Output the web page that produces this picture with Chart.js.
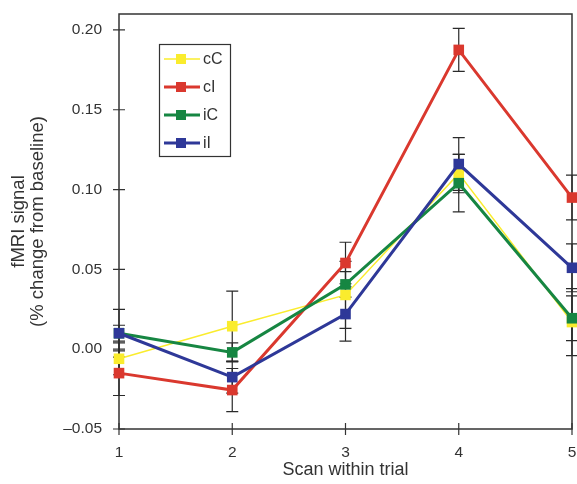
<!DOCTYPE html>
<html>
<head>
<meta charset="utf-8">
<script src="https://cdn.jsdelivr.net/npm/chart.js@4"></script>
<style>
  body { margin: 0; background: #fff; }
</style>
</head>
<body>
<canvas id="mycanvas" width="577" height="484"></canvas>
<script>
// scan index within trial
var scans = ['1', '2', '3', '4', '5'];
var yTicks = [-0.05, 0, 0.05, 0.10, 0.15, 0.20];

// mean fMRI signal per condition
var cC = [-0.006, 0.0144, 0.034, 0.110, 0.017];
var cI = [-0.015, -0.0256, 0.054, 0.1875, 0.095];
var iC = [0.010, -0.002, 0.0406, 0.104, 0.0194];
var iI = [0.010, -0.0175, 0.022, 0.116, 0.051];

// standard errors
var cCErr = [0.010, 0.022, 0.021, 0.012, 0.021];
var cIErr = [0.014, 0.0135, 0.013, 0.0135, 0.014];
var iCErr = [0.005, 0.006, 0.008, 0.018, 0.014];
var iIErr = [0.015, 0.010, 0.017, 0.0165, 0.015];

var FONT = '"Liberation Sans", Arial, sans-serif';

function series(label, data, err, color, width, order) {
  return {
    label: label,
    data: data,
    err: err,
    borderColor: color,
    backgroundColor: color,
    borderWidth: width,
    pointStyle: 'rect',
    pointRadius: 7.5,
    pointBorderWidth: 0,
    pointBackgroundColor: color,
    lineTension: 0,
    fill: false,
    clip: false,
    order: order
  };
}

// whiskers, drawn behind the lines
var errorBars = {
  id: 'errorBars',
  beforeDatasetsDraw: function(chart) {
    var ctx = chart.ctx;
    var y = chart.scales.y;
    ctx.save();
    ctx.strokeStyle = '#2a2a2a';
    ctx.lineWidth = 1.2;
    chart.data.datasets.forEach(function(ds, i) {
      var meta = chart.getDatasetMeta(i);
      meta.data.forEach(function(pt, j) {
        var top = y.getPixelForValue(ds.data[j] + ds.err[j]);
        var bot = y.getPixelForValue(ds.data[j] - ds.err[j]);
        ctx.beginPath();
        ctx.moveTo(pt.x, top); ctx.lineTo(pt.x, bot);
        ctx.moveTo(pt.x - 6, top); ctx.lineTo(pt.x + 6, top);
        ctx.moveTo(pt.x - 6, bot); ctx.lineTo(pt.x + 6, bot);
        ctx.stroke();
      });
    });
    ctx.restore();
  }
};

// box around the plot and ticks crossing the axes
var frame = {
  id: 'frame',
  beforeDatasetsDraw: function(chart) {
    var ctx = chart.ctx;
    var a = chart.chartArea;
    ctx.save();
    ctx.strokeStyle = '#333';
    ctx.lineWidth = 1.5;
    ctx.strokeRect(a.left, a.top, a.right - a.left, a.bottom - a.top);
    ctx.lineWidth = 1.2;
    ctx.beginPath();
    chart.scales.y.ticks.forEach(function(t) {
      var py = chart.scales.y.getPixelForValue(t.value);
      ctx.moveTo(a.left - 6, py); ctx.lineTo(a.left + 6, py);
    });
    scans.forEach(function(s, i) {
      var px = chart.scales.x.getPixelForValue(i);
      ctx.moveTo(px, a.bottom - 6); ctx.lineTo(px, a.bottom + 6);
    });
    ctx.stroke();
    ctx.restore();
  }
};

// boxed legend inside the plot
var boxLegend = {
  id: 'boxLegend',
  afterDraw: function(chart) {
    var ctx = chart.ctx;
    ctx.save();
    ctx.strokeStyle = '#333';
    ctx.lineWidth = 1.2;
    ctx.strokeRect(159.5, 44.5, 71, 112);
    var rows = [59, 87, 115, 143];
    ctx.font = '16px ' + FONT;
    ctx.textBaseline = 'middle';
    chart.data.datasets.forEach(function(ds, i) {
      var ry = rows[i];
      ctx.strokeStyle = ds.borderColor;
      ctx.lineWidth = ds.borderWidth;
      ctx.beginPath();
      ctx.moveTo(164, ry); ctx.lineTo(200, ry);
      ctx.stroke();
      ctx.fillStyle = ds.borderColor;
      ctx.fillRect(176, ry - 5, 10, 10);
      ctx.fillStyle = '#333';
      ctx.fillText(ds.label, 203, ry + 1);
    });
    ctx.restore();
  }
};

var ctx = document.getElementById('mycanvas');

var LineGraph = new Chart(ctx, {
  type: 'line',
  data: {
    labels: scans,
    datasets: [
      series('cC', cC, cCErr, 'rgb(250,236,45)', 1.5, 4),
      series('cI', cI, cIErr, 'rgb(218,56,46)', 3, 3),
      series('iC', iC, iCErr, 'rgb(22,134,66)', 3, 2),
      series('iI', iI, iIErr, 'rgb(46,56,152)', 3, 1)
    ]
  },
  plugins: [frame, errorBars, boxLegend],
  options: {
    responsive: false,
    animation: false,
    layout: { autoPadding: false, padding: { top: 14, right: 5, left: 0, bottom: 0 } },
    plugins: {
      legend: { display: false },
      tooltip: { enabled: false }
    },
    scales: {
      x: {
        offset: false,
        grid: { display: false, drawTicks: false },
        border: { display: false },
        ticks: {
          color: '#333',
          padding: 14,
          maxRotation: 0,
          font: { family: FONT, size: 15.5 }
        },
        title: {
          display: true,
          text: 'Scan within trial',
          color: '#333',
          padding: { top: 0, bottom: 3 },
          font: { family: FONT, size: 18, lineHeight: 1.2 }
        },
        afterFit: function(s) {
          s.height = 55;
          s.paddingLeft = 0;
          s.paddingRight = 0;
        }
      },
      y: {
        min: -0.05,
        max: 0.21,
        grid: { display: false, drawTicks: false },
        border: { display: false },
        afterBuildTicks: function(s) {
          s.ticks = yTicks.map(function(v) { return { value: v }; });
        },
        ticks: {
          color: '#333',
          padding: 17,
          font: { family: FONT, size: 15.5 },
          callback: function(v) {
            var t = Math.abs(v).toFixed(2);
            return v < 0 ? '\u2013' + t : t;
          }
        },
        title: {
          display: true,
          text: ['fMRI signal', '(% change from baseline)'],
          color: '#333',
          padding: { top: 10, bottom: 0 },
          font: { family: FONT, size: 18.5, lineHeight: 1.0 }
        },
        afterFit: function(s) {
          s.width = 119;
          s.paddingTop = 0;
          s.paddingBottom = 0;
        }
      }
    }
  }
});
</script>
</body>
</html>
